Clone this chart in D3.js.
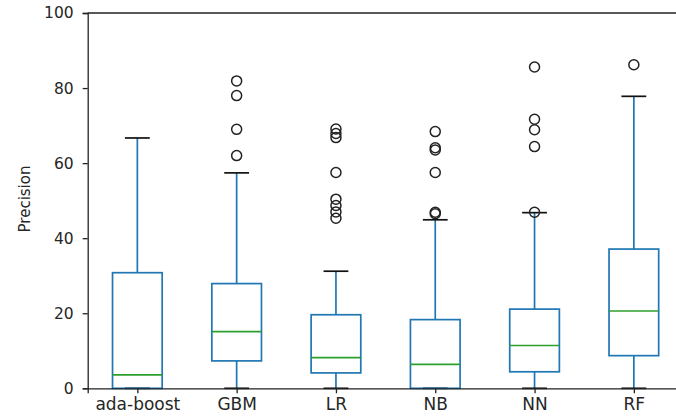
<!DOCTYPE html>
<html>
<head>
<meta charset="utf-8">
<script src="https://cdn.jsdelivr.net/npm/d3@7"></script>
<style>
  body { margin: 0; background: #fff; }
  text { font-family: "DejaVu Sans", sans-serif; fill: #262626; }
</style>
</head>
<body>
<div class="viz"></div>
<script>
const w = 676;
const h = 420;

// box stats
const models = ["ada-boost", "GBM", "LR", "NB", "NN", "RF"];
const whiskerLow = [0, 0, 0, 0, 0, 0];
const q1 = [0, 7.3, 4.1, 0, 4.4, 8.7];
const medians = [3.6, 15.1, 8.2, 6.4, 11.4, 20.6];
const q3 = [30.8, 27.9, 19.6, 18.3, 21.1, 37.1];
const whiskerHigh = [66.7, 57.4, 31.2, 44.9, 46.8, 77.8];
const outliers = [
    [],
    [81.9, 78.0, 69.0, 62.0],
    [69.1, 67.9, 66.8, 57.5, 50.4, 48.7, 47.0, 45.3],
    [68.4, 64.1, 63.5, 57.5, 46.9, 46.5],
    [85.6, 71.7, 68.9, 64.4, 46.9],
    [86.2]
];
const yTicks = [0, 20, 40, 60, 80, 100];

const mLeft = 87.7, mRight = 683.5, mTop = 13, mBottom = 388.3;

const svg = d3.select(".viz")
    .append("svg")
    .attr("width", w)
    .attr("height", h);

const x = d3.scaleLinear()
    .domain([0.5, 6.5])
    .range([mLeft, mRight]);

const y = d3.scaleLinear()
    .domain([0, 100])
    .range([mBottom, mTop]);

const boxes = models.map((m, i) => ({
    name: m, pos: i + 1,
    lo: whiskerLow[i], q1: q1[i], med: medians[i], q3: q3[i], hi: whiskerHigh[i],
    fliers: outliers[i]
}));

const g = svg.append("g");
const lw = 1.7;

// whiskers
g.selectAll(".wlo").data(boxes).enter().append("line")
    .attr("x1", d => x(d.pos)).attr("x2", d => x(d.pos))
    .attr("y1", d => y(d.lo)).attr("y2", d => y(d.q1))
    .style("stroke", "#1f77b4").style("stroke-width", lw);
g.selectAll(".whi").data(boxes).enter().append("line")
    .attr("x1", d => x(d.pos)).attr("x2", d => x(d.pos))
    .attr("y1", d => y(d.q3)).attr("y2", d => y(d.hi))
    .style("stroke", "#1f77b4").style("stroke-width", lw);

// caps
g.selectAll(".caphi").data(boxes).enter().append("line")
    .attr("x1", d => x(d.pos - 0.125)).attr("x2", d => x(d.pos + 0.125))
    .attr("y1", d => y(d.hi)).attr("y2", d => y(d.hi))
    .style("stroke", "#111").style("stroke-width", lw);
g.selectAll(".caplo").data(boxes).enter().append("line")
    .attr("x1", d => x(d.pos - 0.125)).attr("x2", d => x(d.pos + 0.125))
    .attr("y1", d => y(d.lo)).attr("y2", d => y(d.lo))
    .style("stroke", "#111").style("stroke-width", lw);

// boxes
g.selectAll("rect").data(boxes).enter().append("rect")
    .attr("x", d => x(d.pos - 0.25))
    .attr("width", d => x(d.pos + 0.25) - x(d.pos - 0.25))
    .attr("y", d => y(d.q3))
    .attr("height", d => y(d.q1) - y(d.q3))
    .style("fill", "none")
    .style("stroke", "#1f77b4")
    .style("stroke-width", lw);

// medians
g.selectAll(".med").data(boxes).enter().append("line")
    .attr("x1", d => x(d.pos - 0.25)).attr("x2", d => x(d.pos + 0.25))
    .attr("y1", d => y(d.med)).attr("y2", d => y(d.med))
    .style("stroke", "#2ca02c").style("stroke-width", lw);

// fliers
const fliers = boxes.flatMap(d => d.fliers.map(v => ({pos: d.pos, v: v})));
g.selectAll("circle").data(fliers).enter().append("circle")
    .attr("cx", d => x(d.pos))
    .attr("cy", d => y(d.v))
    .attr("r", 5)
    .style("fill", "none")
    .style("stroke", "#222")
    .style("stroke-width", 1.5);

// spines
svg.append("line")
    .attr("x1", mLeft).attr("x2", mRight).attr("y1", mTop).attr("y2", mTop)
    .style("stroke", "#222").style("stroke-width", 1.3);

const yAxis = svg.append("g")
    .attr("transform", `translate(${mLeft},0)`)
    .call(d3.axisLeft(y).tickValues(yTicks).tickSize(5).tickPadding(9).tickFormat(d3.format("d")));

const xAxis = svg.append("g")
    .attr("transform", `translate(0,${mBottom})`)
    .call(d3.axisBottom(x).tickValues(d3.range(1, 7)).tickSize(5).tickPadding(5)
        .tickFormat(d => models[d - 1]));

[yAxis, xAxis].forEach(a => {
    a.select(".domain").style("stroke", "#222").style("stroke-width", 1.3);
    a.selectAll(".tick line").style("stroke", "#222").style("stroke-width", 1.3);
});
yAxis.selectAll("text").style("font-size", "15.5px").style("fill", "#262626");
xAxis.selectAll("text").style("font-size", "17px").style("fill", "#262626");

svg.append("text")
    .attr("transform", "translate(30,199) rotate(-90)")
    .attr("text-anchor", "middle")
    .style("font-size", "15px")
    .text("Precision");
</script>
</body>
</html>
